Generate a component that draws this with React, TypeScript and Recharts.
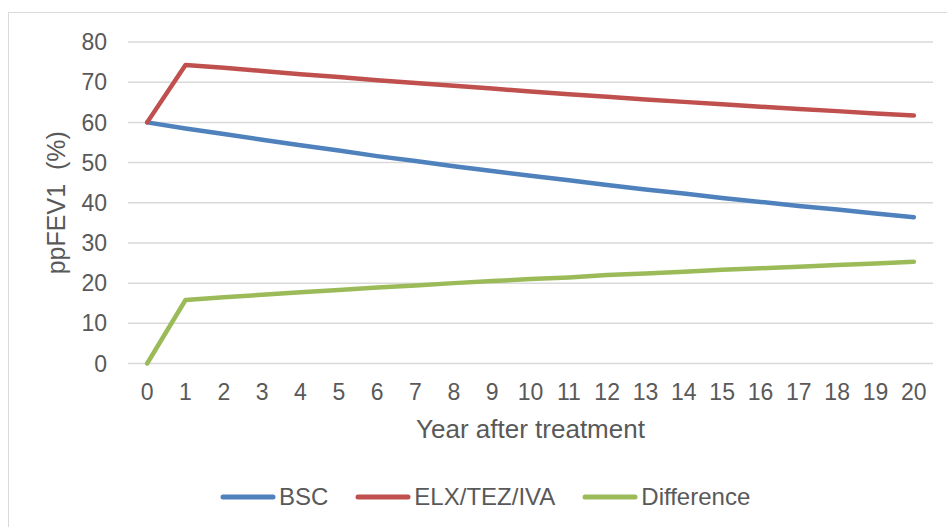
import { LineChart, Line, XAxis, YAxis, CartesianGrid, Legend, Label } from "recharts";

const years = [0, 1, 2, 3, 4, 5, 6, 7, 8, 9, 10, 11, 12, 13, 14, 15, 16, 17, 18, 19, 20];
const bsc = [60, 58.5, 57.1, 55.7, 54.3, 53.0, 51.6, 50.4, 49.1, 47.9, 46.7, 45.6, 44.4, 43.3, 42.3, 41.2, 40.2, 39.2, 38.3, 37.3, 36.4];
const elx = [60, 74.3, 73.6, 72.8, 72.0, 71.3, 70.5, 69.8, 69.1, 68.4, 67.7, 67.0, 66.4, 65.7, 65.1, 64.5, 63.9, 63.3, 62.8, 62.2, 61.7];
const diff = [0, 15.8, 16.5, 17.1, 17.7, 18.3, 18.9, 19.4, 20.0, 20.5, 21.0, 21.4, 22.0, 22.4, 22.8, 23.3, 23.7, 24.1, 24.5, 24.9, 25.3];
const yTicks = [0, 10, 20, 30, 40, 50, 60, 70, 80];

const series = [
  { key: "bsc", name: "BSC", color: "#4F81BD" },
  { key: "elx", name: "ELX/TEZ/IVA", color: "#C0504D" },
  { key: "diff", name: "Difference", color: "#9BBB59" },
];

const data = years.map((y, i) => ({ year: y, bsc: bsc[i], elx: elx[i], diff: diff[i] }));

const FONT = "'Liberation Sans', Arial, sans-serif";
const TEXT = "#595959";

const LegendContent = () => (
  <div style={{ display: "flex", alignItems: "center", marginLeft: 220, fontFamily: FONT, fontSize: 24, color: TEXT, lineHeight: "30px" }}>
    {series.map((s, i) => (
      <div key={s.key} style={{ display: "flex", alignItems: "center", marginRight: i < series.length - 1 ? 27 : 0 }}>
        <svg width={56} height={10} style={{ display: "block" }}>
          <line x1={3} y1={5} x2={53} y2={5} stroke={s.color} strokeWidth={5} strokeLinecap="round" />
        </svg>
        <span style={{ marginLeft: 3 }}>{s.name}</span>
      </div>
    ))}
  </div>
);

// rotated y title, baseline sits at x=65 like the source
const YTitle = (props: any) => {
  const vb = props.viewBox || { x: 0, y: 42, width: 128, height: 321.5 };
  const x = vb.x + 65;
  const y = vb.y + vb.height / 2;
  return (
    <text x={x} y={y} transform={`rotate(-90, ${x}, ${y})`} textAnchor="middle" fill={TEXT} fontSize={25} fontFamily={FONT}>
      {"ppFEV1\u00a0 (%)"}
    </text>
  );
};

export default function App() {
  return (
    <div style={{ position: "absolute", left: 0, top: 0, width: 947, height: 527, overflow: "hidden", background: "#fff" }}>
      {/* chart frame, runs off the right and bottom edge like the source */}
      <div style={{ position: "absolute", left: 8, top: 12, width: 980, height: 560, border: "1.5px solid #d9d9d9" }} />
      <div style={{ position: "absolute", left: 0, top: 0 }}>
        <LineChart width={947} height={527} data={data} margin={{ top: 42, right: 14, bottom: 0, left: 0 }}>
          <CartesianGrid vertical={false} stroke="#d9d9d9" strokeWidth={1.5} />
          <XAxis
            dataKey="year"
            type="number"
            domain={[-0.5, 20.5]}
            ticks={years}
            interval={0}
            height={163.5}
            axisLine={false}
            tickLine={false}
            tickSize={0}
            tickMargin={20}
            tick={{ fill: TEXT, fontSize: 23, fontFamily: FONT }}
          >
            <Label value="Year after treatment" position="insideTop" offset={56} fill={TEXT} fontSize={26} fontFamily={FONT} />
          </XAxis>
          <YAxis
            domain={[0, 80]}
            ticks={yTicks}
            width={128}
            axisLine={false}
            tickLine={false}
            tickSize={0}
            tickMargin={21}
            tick={{ fill: TEXT, fontSize: 23, fontFamily: FONT }}
          >
            <Label content={<YTitle />} />
          </YAxis>
          <Legend
            verticalAlign="middle"
            align="center"
            content={<LegendContent />}
            wrapperStyle={{ top: 482, left: 0, width: 947 }}
          />
          {series.map((s) => (
            <Line
              key={s.key}
              dataKey={s.key}
              name={s.name}
              type="linear"
              stroke={s.color}
              strokeWidth={4.5}
              strokeLinecap="round"
              strokeLinejoin="round"
              dot={false}
              activeDot={false}
              isAnimationActive={false}
            />
          ))}
        </LineChart>
      </div>
    </div>
  );
}
